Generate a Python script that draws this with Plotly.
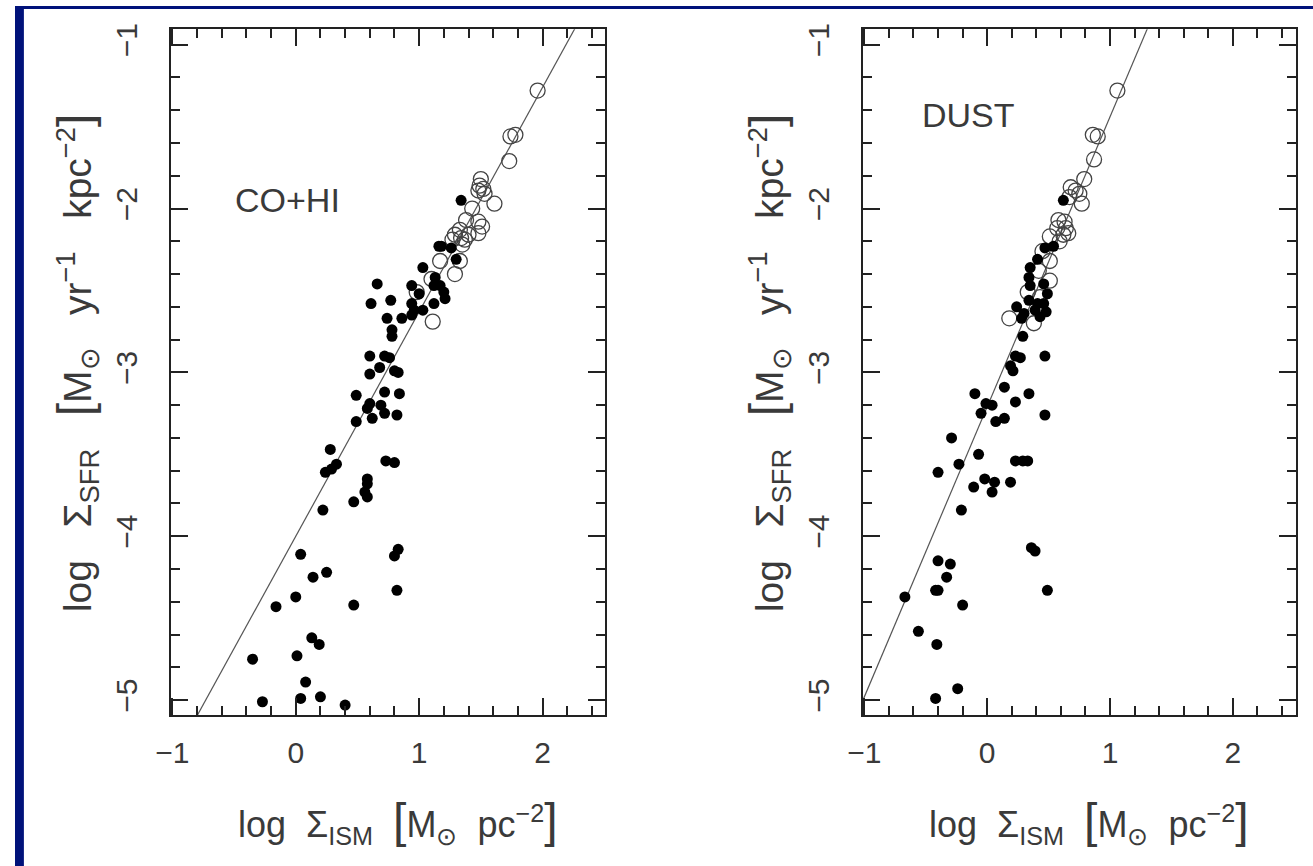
import plotly.graph_objects as go
from plotly.subplots import make_subplots

# ---------------- data: CO+HI panel ----------------
co_filled_x = [1.34, 1.16, 1.18, 1.26, 1.30, 1.03, 0.66, 1.13, 0.94, 1.12, 1.17, 1.00,
               1.20, 1.21, 0.61, 0.77, 0.94, 1.12, 0.96, 1.03, 0.74, 0.86, 0.94, 0.78,
               0.78, 0.60, 0.72, 0.76, 0.68, 0.60, 0.80, 0.83, 0.49, 0.72, 0.84, 0.60,
               0.69, 0.58, 0.72, 0.82, 0.62, 0.49, 0.28, 0.33, 0.29, 0.24, 0.73, 0.80,
               0.58, 0.58, 0.56, 0.58, 0.47, 0.22, 0.04, 0.83, 0.80, 0.25, 0.14, 0.00,
               0.82, -0.16, 0.47, 0.13, 0.19, -0.35, 0.01, 0.08, -0.27, 0.04, 0.20, 0.40]
co_filled_y = [-1.95, -2.23, -2.23, -2.24, -2.31, -2.36, -2.46, -2.42, -2.47, -2.47, -2.47, -2.52,
               -2.51, -2.55, -2.58, -2.56, -2.58, -2.58, -2.62, -2.62, -2.67, -2.67, -2.65, -2.74,
               -2.78, -2.90, -2.90, -2.91, -2.97, -3.01, -2.99, -3.00, -3.14, -3.12, -3.13, -3.19,
               -3.20, -3.22, -3.25, -3.26, -3.28, -3.30, -3.47, -3.56, -3.59, -3.61, -3.54, -3.55,
               -3.65, -3.68, -3.73, -3.76, -3.79, -3.84, -4.11, -4.08, -4.12, -4.22, -4.25, -4.37,
               -4.33, -4.43, -4.42, -4.62, -4.66, -4.75, -4.73, -4.89, -5.01, -4.99, -4.98, -5.03]
co_open_x = [1.96, 1.74, 1.78, 1.73, 1.50, 1.49, 1.52, 1.48, 1.53, 1.61, 1.43, 1.38,
             1.48, 1.51, 1.33, 1.29, 1.40, 1.48, 1.34, 1.27, 1.37, 1.35, 1.17, 1.33,
             1.29, 1.10, 0.98, 1.11]
co_open_y = [-1.28, -1.56, -1.55, -1.71, -1.82, -1.86, -1.88, -1.89, -1.91, -1.97, -2.00, -2.07,
             -2.08, -2.11, -2.13, -2.16, -2.16, -2.15, -2.18, -2.19, -2.19, -2.22, -2.32, -2.32,
             -2.40, -2.43, -2.51, -2.69]
co_fit = (-4.00, 1.37)   # intercept, slope

# ---------------- data: DUST panel ----------------
dust_filled_x = [0.62, 0.47, 0.54, 0.41, 0.35, 0.34, 0.35, 0.46, 0.49, 0.34, 0.41, 0.46,
                 0.24, 0.39, 0.48, 0.30, 0.28, 0.43, 0.29, 0.47, 0.23, 0.27, 0.19, 0.21,
                 0.14, -0.10, 0.34, -0.01, 0.04, 0.23, -0.05, 0.47, 0.07, 0.14, -0.29, -0.07,
                 -0.23, -0.40, 0.23, 0.29, 0.33, -0.02, 0.06, 0.19, -0.11, 0.04, -0.21, 0.36,
                 0.39, -0.40, -0.30, -0.33, -0.42, -0.40, 0.49, -0.67, -0.20, -0.56, -0.41, -0.24,
                 -0.42]
dust_filled_y = [-1.95, -2.24, -2.23, -2.31, -2.36, -2.42, -2.47, -2.46, -2.52, -2.56, -2.58, -2.58,
                 -2.60, -2.62, -2.63, -2.64, -2.67, -2.66, -2.78, -2.90, -2.90, -2.91, -2.96, -2.99,
                 -3.09, -3.13, -3.13, -3.19, -3.20, -3.18, -3.25, -3.26, -3.30, -3.28, -3.40, -3.50,
                 -3.56, -3.61, -3.54, -3.54, -3.54, -3.65, -3.67, -3.67, -3.70, -3.73, -3.84, -4.07,
                 -4.09, -4.15, -4.17, -4.25, -4.33, -4.33, -4.33, -4.37, -4.42, -4.58, -4.66, -4.93,
                 -4.99]
dust_open_x = [1.06, 0.86, 0.90, 0.87, 0.79, 0.68, 0.72, 0.75, 0.77, 0.67, 0.58, 0.63,
               0.64, 0.57, 0.62, 0.51, 0.66, 0.59, 0.45, 0.51, 0.42, 0.51, 0.33, 0.43,
               0.18, 0.38]
dust_open_y = [-1.28, -1.55, -1.56, -1.70, -1.82, -1.87, -1.89, -1.91, -1.97, -1.93, -2.07, -2.08,
               -2.12, -2.12, -2.16, -2.17, -2.15, -2.20, -2.26, -2.32, -2.38, -2.44, -2.51, -2.54,
               -2.67, -2.70]
dust_fit = (-3.21, 1.77)

x_ticks = [-1, 0, 1, 2]
y_ticks = [-5, -4, -3, -2, -1]
x_range = [-1.015, 2.51]
y_range = [-5.093, -0.905]

W, H = 1313, 866
INK = "#222222"
TXT = "#3a3a3a"
FONT = "Liberation Sans, Arial, sans-serif"

fig = make_subplots(rows=1, cols=2)

def add_panel(col, fx, fy, ox, oy, fit):
    a, b = fit
    lx = [-1.3, 2.8]
    fig.add_trace(go.Scatter(x=lx, y=[a + b * v for v in lx], mode="lines",
                             line=dict(color="#555555", width=1.2),
                             showlegend=False, hoverinfo="skip"), row=1, col=col)
    fig.add_trace(go.Scatter(x=ox, y=oy, mode="markers",
                             marker=dict(symbol="circle-open", size=15,
                                         color="#444444", line=dict(width=1.3)),
                             showlegend=False, cliponaxis=True), row=1, col=col)
    fig.add_trace(go.Scatter(x=fx, y=fy, mode="markers",
                             marker=dict(symbol="circle", size=11, color="#000000",
                                         line=dict(width=0)),
                             showlegend=False, cliponaxis=True), row=1, col=col)

add_panel(1, co_filled_x, co_filled_y, co_open_x, co_open_y, co_fit)
add_panel(2, dust_filled_x, dust_filled_y, dust_open_x, dust_open_y, dust_fit)

axis_common = dict(showline=True, linecolor=INK, linewidth=2, mirror="allticks",
                   ticks="inside", ticklen=17, tickwidth=2, tickcolor=INK,
                   showgrid=False, zeroline=False,
                   minor=dict(dtick=0.2, ticks="inside", ticklen=9, tickwidth=2,
                              tickcolor=INK, showgrid=False),
                   tickfont=dict(family=FONT, size=30, color=TXT))

px_dom = [(157.3, 597.3), (857.3, 1295.3)]
y_dom = [1 - 714.3 / H, 1 - 23.3 / H]
for i, (l, r) in enumerate(px_dom, start=1):
    xa = "xaxis" if i == 1 else "xaxis%d" % i
    ya = "yaxis" if i == 1 else "yaxis%d" % i
    fig.layout[xa].update(domain=[l / W, r / W], range=x_range, tickvals=x_ticks,
                          ticklabelstandoff=10, **axis_common)
    fig.layout[ya].update(domain=y_dom, range=y_range, tickvals=y_ticks,
                          tickangle=-90, ticklabelstandoff=20, **axis_common)

SP = "\u00a0\u00a0"
SP3 = "\u00a0\u00a0\u00a0"
BR_L = "<span style='font-size:48px'>[</span>"
BR_R = "<span style='font-size:48px'>]</span>"
xtitle = ("log" + SP + "\u03a3<sub>ISM</sub>" + SP + BR_L + "M<sub>\u2299</sub>" + SP
          + "pc<sup>\u22122</sup>" + BR_R)
ytitle = ("log" + SP3 + "\u03a3<sub>SFR</sub>" + SP3 + BR_L + "M<sub>\u2299</sub>" + SP3
          + "yr<sup>\u22121</sup>" + SP3 + "kpc<sup>\u22122</sup>" + BR_R)

ann = []
for (l, r) in px_dom:
    xc = (l + r) / 2 + 10
    ann.append(dict(x=xc / W, y=1 - 822 / H, xref="paper", yref="paper", text=xtitle,
                    showarrow=False, xanchor="center", yanchor="middle",
                    font=dict(family=FONT, size=36, color=TXT)))
    ann.append(dict(x=(l - 95) / W, y=1 - 360 / H, xref="paper", yref="paper", text=ytitle,
                    textangle=-90, showarrow=False, xanchor="center", yanchor="middle",
                    font=dict(family=FONT, size=39, color=TXT)))
ann.append(dict(x=276 / W, y=1 - 195 / H, xref="paper", yref="paper", text="CO+HI",
                showarrow=False, xanchor="center", yanchor="middle",
                font=dict(family=FONT, size=34, color=TXT)))
ann.append(dict(x=965 / W, y=1 - 110 / H, xref="paper", yref="paper", text="DUST",
                showarrow=False, xanchor="center", yanchor="middle",
                font=dict(family=FONT, size=34, color=TXT)))

NAVY = "#00127a"
shapes = [
    dict(type="rect", xref="paper", yref="paper", x0=0, x1=9 / W, y0=0, y1=1,
         fillcolor=NAVY, line=dict(width=0), layer="above"),
    dict(type="rect", xref="paper", yref="paper", x0=0, x1=1, y0=1 - 3 / H, y1=1,
         fillcolor=NAVY, line=dict(width=0), layer="above"),
]

fig.update_layout(width=W, height=H, margin=dict(l=0, r=0, t=0, b=0),
                  paper_bgcolor="white", plot_bgcolor="white",
                  annotations=ann, shapes=shapes, showlegend=False,
                  font=dict(family=FONT, color=TXT))

fig.write_html("out.html",
               post_script="document.body.style.margin='0';"
                           "document.body.style.overflow='hidden';")
